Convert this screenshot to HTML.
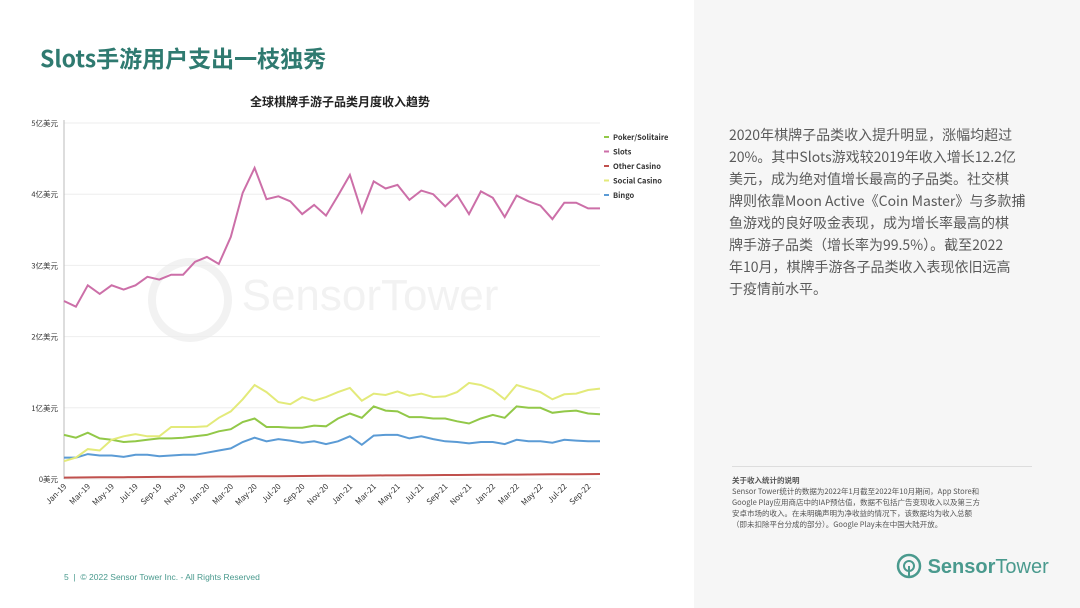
<!DOCTYPE html>
<html><head><meta charset="utf-8"><style>
body{margin:0;width:1080px;height:608px;position:relative;background:#fff;font-family:"Noto Sans CJK SC","Liberation Sans",sans-serif;overflow:hidden}
.right{position:absolute;left:694px;top:0;width:386px;height:608px;background:#f6f6f6}
h1{position:absolute;left:40px;top:40px;margin:0;font-size:23px;line-height:34px;color:#2f7a70;font-weight:bold}
.txt{position:absolute;left:729px;top:124px;white-space:nowrap;font-size:14px;line-height:22px;color:#5a5a5a}
.note{position:absolute;left:732px;top:475px;white-space:nowrap;font-size:7.5px;line-height:11px;color:#555}
.hr{position:absolute;left:732px;top:466px;width:300px;height:1px;background:#ddd}
.foot{position:absolute;left:64px;top:572px;font-size:8.5px;color:#4a9a8e;font-family:"Liberation Sans",sans-serif}
.logo{position:absolute;left:896px;top:553px;font-size:20px;color:#4a9a8e;font-family:"Liberation Sans",sans-serif}
</style></head><body>
<div class="right"></div>
<h1>Slots手游用户支出一枝独秀</h1>
<div class="txt">2020年棋牌子品类收入提升明显，涨幅均超过<br>20%。其中Slots游戏较2019年收入增长12.2亿<br>美元，成为绝对值增长最高的子品类。社交棋<br>牌则依靠Moon Active《Coin Master》与多款捕<br>鱼游戏的良好吸金表现，成为增长率最高的棋<br>牌手游子品类（增长率为99.5%）。截至2022<br>年10月，棋牌手游各子品类收入表现依旧远高<br>于疫情前水平。</div>
<div class="hr"></div>
<div class="note"><b>关于收入统计的说明</b><br>Sensor Tower统计的数据为2022年1月截至2022年10月期间，App Store和<br>Google Play应用商店中的IAP预估值，数据不包括广告变现收入以及第三方<br>安卓市场的收入。在未明确声明为净收益的情况下，该数据均为收入总额<br>（即未扣除平台分成的部分）。Google Play未在中国大陆开放。</div>
<div class="foot">5 &nbsp;|&nbsp; © 2022 Sensor Tower Inc. - All Rights Reserved</div>
<div class="logo"><svg width="26" height="26" viewBox="0 0 26 26" style="vertical-align:-6px"><circle cx="13" cy="13" r="11" fill="none" stroke="#4a9a8e" stroke-width="2.5"/><circle cx="13" cy="13" r="5" fill="none" stroke="#4a9a8e" stroke-width="2"/><line x1="13" y1="13" x2="13" y2="24" stroke="#4a9a8e" stroke-width="2"/></svg> <b>Sensor</b>Tower</div>
<svg id="c" width="694" height="608" style="position:absolute;left:0;top:0"></svg>
<script>
const S=[2.5,2.42,2.72,2.6,2.72,2.66,2.72,2.84,2.8,2.87,2.87,3.05,3.12,3.02,3.4,4.02,4.37,3.93,3.97,3.9,3.72,3.85,3.7,3.98,4.27,3.75,4.18,4.08,4.13,3.92,4.05,4.0,3.83,3.99,3.72,4.04,3.95,3.68,3.98,3.9,3.84,3.65,3.88,3.88,3.8,3.8];
const SC=[0.25,0.3,0.42,0.4,0.55,0.6,0.63,0.6,0.6,0.73,0.73,0.73,0.74,0.86,0.95,1.12,1.32,1.22,1.08,1.05,1.15,1.1,1.15,1.22,1.28,1.1,1.2,1.18,1.23,1.17,1.2,1.15,1.16,1.22,1.35,1.32,1.25,1.12,1.32,1.27,1.22,1.12,1.19,1.2,1.25,1.27];
const P=[0.62,0.58,0.65,0.57,0.55,0.52,0.53,0.55,0.57,0.57,0.58,0.6,0.62,0.67,0.7,0.8,0.85,0.73,0.73,0.72,0.72,0.75,0.74,0.85,0.92,0.86,1.02,0.96,0.95,0.87,0.87,0.85,0.85,0.81,0.78,0.85,0.9,0.86,1.02,1.0,1.0,0.93,0.95,0.96,0.92,0.91];
const B=[0.3,0.3,0.35,0.33,0.33,0.31,0.34,0.34,0.32,0.33,0.34,0.34,0.37,0.4,0.43,0.52,0.58,0.53,0.56,0.54,0.51,0.53,0.49,0.53,0.6,0.48,0.61,0.62,0.62,0.57,0.6,0.56,0.53,0.52,0.5,0.52,0.52,0.49,0.55,0.53,0.53,0.51,0.55,0.54,0.53,0.53];
const O=S.map((_,i)=>0.02+0.05*i/45);
const x0=64,x1=600,y0=479,k=71.2,X=i=>x0+(x1-x0)*i/45,Y=v=>y0-v*k;
let h='<text x="340" y="106" font-size="12" font-weight="bold" text-anchor="middle" fill="#222">全球棋牌手游子品类月度收入趋势</text>';
h+='<text x="370" y="310" font-size="44" fill="#f2f2f2" text-anchor="middle" font-family="Liberation Sans">SensorTower</text><circle cx="190" cy="300" r="38" fill="none" stroke="#f2f2f2" stroke-width="8"/>';
for(let j=0;j<=5;j++){let y=Y(j);h+=`<line x1="${x0}" x2="${x1}" y1="${y}" y2="${y}" stroke="#eee"/><text x="58" y="${y+3}" font-size="7.5" text-anchor="end" fill="#333">${j?j+'亿美元':'0美元'}</text>`;}
h+=`<line x1="${x0}" x2="${x0}" y1="120" y2="${y0}" stroke="#bbb"/>`;
const m=['Jan','Mar','May','Jul','Sep','Nov'];
for(let i=0;i<46;i+=2){let yr=19+Math.floor(i/12);let x=X(i);h+=`<text transform="translate(${x+3},${y0+8}) rotate(-45)" font-size="8" text-anchor="end" fill="#333">${m[(i%12)/2]}-${yr}</text>`;}
const L=(d,c)=>{h+=`<polyline fill="none" stroke="${c}" stroke-width="2" points="${d.map((v,i)=>X(i).toFixed(1)+','+Y(v).toFixed(1)).join(' ')}"/>`};
L(O,'#c0504d');L(B,'#5b9bd5');L(P,'#92c848');L(SC,'#e3ea7a');L(S,'#cc6fa8');
[['Poker/Solitaire','#92c848'],['Slots','#cc6fa8'],['Other Casino','#c0504d'],['Social Casino','#e3ea7a'],['Bingo','#5b9bd5']].forEach((e,i)=>{let y=137+i*14.5;h+=`<line x1="604" x2="609" y1="${y}" y2="${y}" stroke="${e[1]}" stroke-width="2"/><text x="613" y="${y+3}" font-size="7.5" font-weight="bold" fill="#333">${e[0]}</text>`;});
document.getElementById('c').innerHTML=h;
</script>
</body></html>
